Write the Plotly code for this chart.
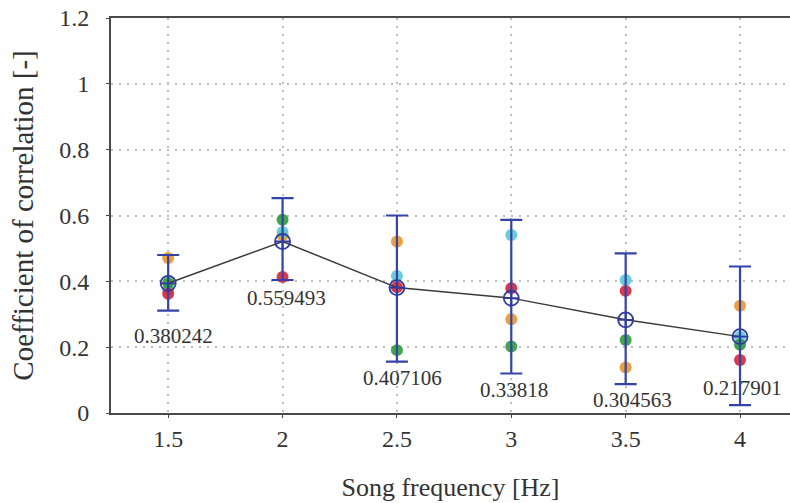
import plotly.graph_objects as go

freq = [1.5, 2.0, 2.5, 3.0, 3.5, 4.0]
mean_r = [0.394, 0.521, 0.381, 0.349, 0.283, 0.232]
err_hi = [0.480, 0.653, 0.600, 0.587, 0.485, 0.445]
err_lo = [0.311, 0.404, 0.156, 0.120, 0.088, 0.024]

orange = [0.471, 0.540, 0.521, 0.285, 0.138, 0.326]
cyan = [0.377, 0.550, 0.416, 0.541, 0.404, 0.232]
red = [0.362, 0.413, 0.382, 0.379, 0.371, 0.161]
green = [0.395, 0.587, 0.191, 0.202, 0.222, 0.207]

label_text = ["0.380242", "0.559493", "0.407106", "0.33818", "0.304563", "0.217901"]
label_x = [1.522, 2.018, 2.523, 3.01, 3.53, 4.01]
label_y = [0.235, 0.350, 0.106, 0.070, 0.040, 0.076]

FONT = "Liberation Serif, Times New Roman, serif"

fig = go.Figure()

for vals, col in [(orange, "#e8962e"), (cyan, "#5cc6d6"), (green, "#2e9a3a"), (red, "#d3253a")]:
    fig.add_trace(go.Scatter(
        x=freq, y=vals, mode="markers",
        marker=dict(size=12, color=col, opacity=0.9, line=dict(width=0)),
        showlegend=False, hoverinfo="skip"))

fig.add_trace(go.Scatter(
    x=freq, y=mean_r, mode="lines",
    line=dict(color="#3a3a3a", width=1.5),
    showlegend=False))

fig.add_trace(go.Scatter(
    x=freq, y=mean_r, mode="markers",
    marker=dict(symbol="circle-cross-open", size=15, color="#2f3c9e",
                line=dict(width=1.8, color="#2f3c9e")),
    error_y=dict(type="data", symmetric=False,
                 array=[h - m for h, m in zip(err_hi, mean_r)],
                 arrayminus=[m - l for m, l in zip(mean_r, err_lo)],
                 color="#3443a8", thickness=2.2, width=11),
    showlegend=False))

for t, x, y in zip(label_text, label_x, label_y):
    fig.add_annotation(x=x, y=y, text=t, showarrow=False,
                       font=dict(family=FONT, size=21, color="#333333"))

fig.update_layout(
    width=790, height=503,
    margin=dict(l=111, r=0, t=18, b=90, autoexpand=False),
    paper_bgcolor="white", plot_bgcolor="white",
    font=dict(family=FONT, color="#333333"),
)
fig.update_xaxes(
    range=[1.25, 4.2185], tickvals=freq, ticktext=["1.5", "2", "2.5", "3", "3.5", "4"],
    showline=True, linecolor="#4a4a4a", linewidth=2, mirror=True,
    showgrid=True, gridcolor="#bdbdbd", griddash="2px,6px", gridwidth=1.5,
    ticks="outside", ticklen=3, tickcolor="#444444",
    tickfont=dict(family=FONT, size=24, color="#333333"),
    title=dict(text="Song frequency [Hz]", font=dict(family=FONT, size=26, color="#333333"), standoff=27),
    zeroline=False, automargin=False,
)
fig.update_yaxes(
    range=[0, 1.2], tickvals=[0, 0.2, 0.4, 0.6, 0.8, 1.0, 1.2],
    ticktext=["0", "0.2", "0.4", "0.6", "0.8", "1", "1.2"],
    showline=True, linecolor="#4a4a4a", linewidth=2, mirror=False,
    showgrid=True, gridcolor="#bdbdbd", griddash="2px,6px", gridwidth=1.5,
    ticks="outside", ticklen=3, tickcolor="#444444", ticklabelstandoff=12,
    tickfont=dict(family=FONT, size=24, color="#333333"),
    title=dict(text="Coefficient of correlation [-]", font=dict(family=FONT, size=29, color="#333333"), standoff=17),
    zeroline=False, automargin=False,
)

fig.write_html("out.html", config={"displayModeBar": False},
               post_script="document.body.style.margin='0';")
